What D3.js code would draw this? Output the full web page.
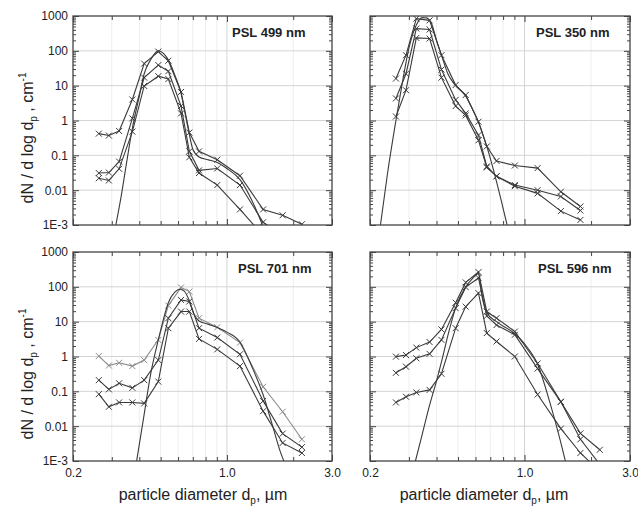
<!DOCTYPE html>
<html><head><meta charset="utf-8">
<script src="https://cdn.jsdelivr.net/npm/d3@7"></script>
<style>
body{margin:0;background:#fff}
svg{display:block}
text{font-family:Arial,"Liberation Sans",Helvetica,sans-serif;fill:#222}
</style>
</head><body>
<svg id="c" width="638" height="506"></svg>
<script>
// ---- data ----
const bins = [0.262, 0.291, 0.324, 0.372, 0.421, 0.488, 0.542, 0.619, 0.675, 0.747, 0.904, 1.146, 1.46, 1.79, 2.19];

const yTickValues = [1000, 100, 10, 1, 0.1, 0.01, 0.001];
const yTickLabels = ["1000", "100", "10", "1", "0.1", "0.01", "1E-3"];
const xTickValues = [0.2, 1.0, 3.0];
const xTickLabels = ["0.2", "1.0", "3.0"];
const titles = ["PSL 499 nm", "PSL 350 nm", "PSL 701 nm", "PSL 596 nm"];

// PSL 499 nm
const s499a = [0.42, 0.37, 0.50, 4.0, 43, 95, 52, 6.6, 0.45, 0.13, 0.075, 0.026, 0.0028, 0.0019, 0.00105];
const s499b = [0.031, 0.032, 0.066, 1.15, 17, 39, 26, 2.6, 0.13, 0.037, 0.042, 0.014, 0.0012, 0.0005];
const s499c = [0.022, 0.019, 0.041, 0.48, 9.8, 18.7, 15.5, 1.6, 0.088, 0.031, 0.014, 0.0028, 0.0005];
const t499 = [[0.313,0.001],[0.33,0.006],[0.35,0.06],[0.372,0.6],[0.40,5],[0.421,22],[0.45,55],[0.488,100],[0.515,85],[0.542,55],[0.58,20],[0.619,6],[0.65,1.3],[0.675,0.4],[0.70,0.15],[0.747,0.09],[0.82,0.075],[0.904,0.062],[1.0,0.042],[1.146,0.02],[1.3,0.005],[1.46,0.0009]];

// PSL 350 nm
const s350a = [16, 75, 840, 750, 75, 10.4, 5.4, 0.92, 0.18, 0.069, 0.051, 0.043, 0.009, 0.0034];
const s350b = [4.3, 22, 435, 410, 29, 3.9, 1.6, 0.38, 0.048, 0.025, 0.014, 0.010, 0.0066, 0.0026];
const s350c = [1.3, 7.4, 235, 225, 17, 2.6, 1.4, 0.27, 0.045, 0.025, 0.013, 0.0081, 0.0025, 0.0014];
const t350 = [[0.223,0.001],[0.24,0.03],[0.262,1.0],[0.28,12],[0.30,120],[0.324,550],[0.345,900],[0.36,880],[0.38,600],[0.40,200],[0.421,75],[0.45,22],[0.488,10],[0.542,5],[0.58,2.2],[0.619,0.9],[0.675,0.18],[0.75,0.016],[0.80,0.003],[0.834,0.001]];

// PSL 701 nm
const s701a = [1.03, 0.55, 0.66, 0.53, 0.79, 3.0, 29, 96, 73, 12.6, 6.9, 2.5, 0.135, 0.026, 0.0042];
const s701b = [0.21, 0.114, 0.17, 0.126, 0.21, 0.79, 12.6, 42, 38, 6.5, 3.5, 1.16, 0.053, 0.0061, 0.0025];
const s701c = [0.083, 0.036, 0.048, 0.048, 0.045, 0.19, 6.5, 19.5, 19.5, 3.2, 1.6, 0.53, 0.027, 0.0033, 0.0017];
const t701 = [[0.389,0.001],[0.42,0.02],[0.45,0.3],[0.488,3],[0.52,15],[0.542,35],[0.58,70],[0.61,85],[0.64,75],[0.675,40],[0.71,16],[0.747,10.5],[0.82,8.5],[0.904,6.8],[1.0,5],[1.146,2.6],[1.3,0.5],[1.46,0.08],[1.6,0.012],[1.75,0.0018],[1.84,0.0008]];

// PSL 596 nm
const s596a = [0.99, 1.1, 1.8, 2.6, 6.0, 35, 134, 265, 19.5, 12.6, 5.2, 0.63, 0.05, 0.0062, 0.0021];
const s596b = [0.34, 0.51, 0.89, 1.19, 3.0, 24.5, 98, 180, 14.6, 8.0, 4.2, 0.45, 0.05, 0.0042, 0.0008];
const s596c = [0.048, 0.07, 0.093, 0.11, 0.32, 6.5, 27, 66, 4.7, 2.7, 1.0, 0.081, 0.0085, 0.0017, 0.0005];
const t596 = [[0.321,0.001],[0.345,0.006],[0.372,0.04],[0.40,0.2],[0.421,0.7],[0.45,4],[0.488,25],[0.542,100],[0.58,170],[0.619,240],[0.64,60],[0.675,18],[0.747,10],[0.904,4.5],[1.0,2.3],[1.146,0.6],[1.3,0.05],[1.45,0.004],[1.53,0.001]];

// ---- layout ----
const H = 209;
const panels = [
  {title: titles[0], series: [s499a, s499b, s499c], theory: t499, x: 73,  y: 16,  w: 259, tx: 159, left: true,  bottom: false, light: -1},
  {title: titles[1], series: [s350a, s350b, s350c], theory: t350, x: 370, y: 16,  w: 260, tx: 166, left: false, bottom: false, light: -1},
  {title: titles[2], series: [s701a, s701b, s701c], theory: t701, x: 73,  y: 252, w: 259, tx: 165, left: true,  bottom: true,  light: 0},
  {title: titles[3], series: [s596a, s596b, s596c], theory: t596, x: 370, y: 252, w: 260, tx: 168, left: false, bottom: true,  light: -1}
];

const svg = d3.select('#c');
const defs = svg.append('defs');
const xMinor = [0.3,0.4,0.5,0.6,0.7,0.8,0.9,2];
const yMinor = [];
for (let e = -3; e < 3; e++) for (let k = 2; k <= 9; k++) yMinor.push(k * Math.pow(10, e));

const lineCol = '#3a3a3a';

panels.forEach((p, i) => {
  const x = d3.scaleLog().domain([0.2, 3]).range([p.x, p.x + p.w]);
  const y = d3.scaleLog().domain([1e-3, 1e3]).range([p.y + H, p.y]);
  const g = svg.append('g');
  const cid = 'clip' + i;
  defs.append('clipPath').attr('id', cid).append('rect')
    .attr('x', p.x).attr('y', p.y).attr('width', p.w).attr('height', H);

  // grid
  const grid = g.append('g');
  grid.selectAll('.gxm').data(xMinor).join('line')
    .attr('x1', d => x(d)).attr('x2', d => x(d)).attr('y1', p.y).attr('y2', p.y + H)
    .attr('stroke', '#eeeeee').attr('stroke-width', 1);
  grid.selectAll('.gx').data([1.0]).join('line')
    .attr('x1', d => x(d)).attr('x2', d => x(d)).attr('y1', p.y).attr('y2', p.y + H)
    .attr('stroke', '#d4d4d4').attr('stroke-width', 1);
  grid.selectAll('.gy').data(yTickValues.slice(1, -1)).join('line')
    .attr('x1', p.x).attr('x2', p.x + p.w).attr('y1', d => y(d)).attr('y2', d => y(d))
    .attr('stroke', '#d4d4d4').attr('stroke-width', 1);

  // axes (inward ticks)
  const axL = g.append('g').attr('transform', `translate(${p.x},0)`)
    .call(d3.axisLeft(y).tickValues(yTickValues).tickSize(-6).tickPadding(5)
      .tickFormat((d, k) => p.left ? yTickLabels[k] : ''));
  const axLm = g.append('g').attr('transform', `translate(${p.x},0)`)
    .call(d3.axisLeft(y).tickValues(yMinor).tickSize(-3).tickFormat(''));
  const axR = g.append('g').attr('transform', `translate(${p.x + p.w},0)`)
    .call(d3.axisRight(y).tickValues(yTickValues).tickSize(-6).tickFormat(''));
  const axRm = g.append('g').attr('transform', `translate(${p.x + p.w},0)`)
    .call(d3.axisRight(y).tickValues(yMinor).tickSize(-3).tickFormat(''));
  const axB = g.append('g').attr('transform', `translate(0,${p.y + H})`)
    .call(d3.axisBottom(x).tickValues(xTickValues).tickSize(-6).tickPadding(7)
      .tickFormat((d, k) => p.bottom ? xTickLabels[k] : ''));
  const axBm = g.append('g').attr('transform', `translate(0,${p.y + H})`)
    .call(d3.axisBottom(x).tickValues(xMinor).tickSize(-4).tickFormat(''));
  const axT = g.append('g').attr('transform', `translate(0,${p.y})`)
    .call(d3.axisTop(x).tickValues(xTickValues).tickSize(-6).tickFormat(''));
  const axTm = g.append('g').attr('transform', `translate(0,${p.y})`)
    .call(d3.axisTop(x).tickValues(xMinor).tickSize(-4).tickFormat(''));
  [axL, axLm, axR, axRm, axB, axBm, axT, axTm].forEach(a => {
    a.select('.domain').remove();
    a.selectAll('line').attr('stroke', '#444').attr('stroke-width', 1);
    a.selectAll('text').attr('font-size', 12).attr('fill', '#222')
      .attr('font-family', 'Arial, "Liberation Sans", sans-serif');
  });

  // data
  const plot = g.append('g').attr('clip-path', `url(#${cid})`);
  const line = d3.line().x((d, k) => x(bins[k])).y(d => y(d));
  p.series.forEach((s, si) => {
    const col = si === p.light ? '#8a8a8a' : lineCol;
    plot.append('path').datum(s).attr('d', line)
      .attr('fill', 'none').attr('stroke', col).attr('stroke-width', 1.1);
    plot.selectAll(null).data(s).join('path')
      .attr('transform', (d, k) => `translate(${x(bins[k])},${y(d)})`)
      .attr('d', 'M-3,-3L3,3M-3,3L3,-3')
      .attr('stroke', col).attr('stroke-width', 1).attr('fill', 'none');
  });
  const tline = d3.line().x(d => x(d[0])).y(d => y(d[1])).curve(d3.curveMonotoneX);
  plot.append('path').datum(p.theory).attr('d', tline)
    .attr('fill', 'none').attr('stroke', lineCol).attr('stroke-width', 1.1);

  // frame
  g.append('rect').attr('x', p.x).attr('y', p.y).attr('width', p.w).attr('height', H)
    .attr('fill', 'none').attr('stroke', '#444').attr('stroke-width', 1.3);

  // title
  g.append('text').attr('x', p.x + p.tx).attr('y', p.y + 20.5)
    .attr('font-size', 13).attr('font-weight', 'bold').attr('fill', '#111').text(p.title);

  // y label
  if (p.left) {
    const yl = g.append('text').attr('font-size', 16).attr('text-anchor', 'middle')
      .attr('transform', `translate(33,${p.y + 122}) rotate(-90)`);
    yl.append('tspan').text('dN / d log d');
    yl.append('tspan').attr('font-size', 10).attr('dy', 4).text('p');
    yl.append('tspan').attr('dy', -4).text(' , cm');
    yl.append('tspan').attr('font-size', 10).attr('dy', -7).text('-1');
  }
  // x label
  if (p.bottom) {
    const xl = g.append('text').attr('font-size', 16).attr('text-anchor', 'middle')
      .attr('x', p.left ? 203 : 484).attr('y', 500);
    xl.append('tspan').text('particle diameter d');
    xl.append('tspan').attr('font-size', 10).attr('dy', 4).text('p');
    xl.append('tspan').attr('dy', -4).text(', \u00b5m');
  }
});
</script>
</body></html>
